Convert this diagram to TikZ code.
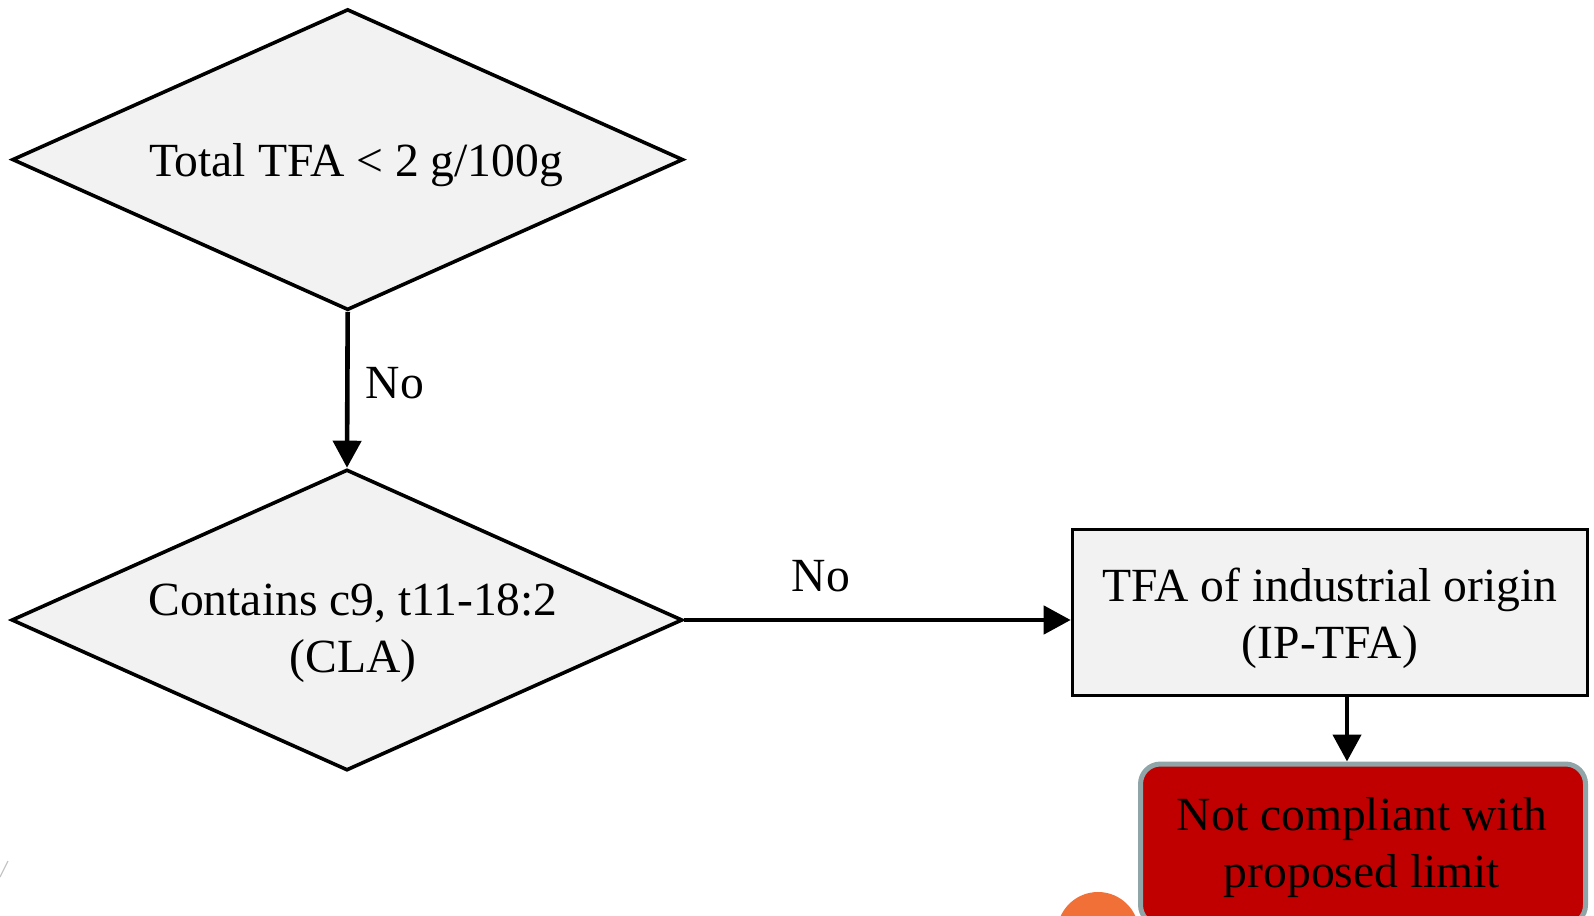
\documentclass[tikz,border=0pt]{standalone}
\usepackage{fontspec}
\setmainfont{Liberation Serif}
\usetikzlibrary{shapes.geometric,arrows.meta}

\definecolor{boxgray}{HTML}{F2F2F2}
\definecolor{alertred}{HTML}{C00000}
\definecolor{alertedge}{HTML}{8FA5A8}
\definecolor{dotorange}{HTML}{F07038}

\tikzset{
  flowtext/.style={font=\fontsize{23.8}{28.5}\selectfont, align=center, inner sep=0pt},
  decision/.style={diamond, draw=black, line width=1.8pt, fill=boxgray,
    inner sep=0pt, minimum width=335.5pt, minimum height=150.5pt},
  process/.style={rectangle, draw=black, line width=1.8pt, fill=boxgray,
    inner sep=0pt, minimum width=257.5pt, minimum height=83pt},
  alertbox/.style={rectangle, rounded corners=10pt, draw=alertedge,
    line width=2.5pt, fill=alertred, inner sep=0pt,
    minimum width=222.5pt, minimum height=80.5pt},
  flow/.style={line width=2.3pt, -{Triangle[width=14pt,length=13.5pt]}},
  edgelabel/.style={font=\fontsize{23.8}{28.5}\selectfont}
}

\begin{document}
\begin{tikzpicture}[x=0.5pt,y=-0.5pt]
  \useasboundingbox (0,0) rectangle (1594,915);
  \clip (0,0) rectangle (1594,915);

  % decisions
  \node[decision] (total) at (347.7,159.6) {};
  \node[flowtext] (totaltext) at (356,164.7) {Total TFA < 2 g/100g};
  \node[decision] (cla) at (347,620) {};
  \node[flowtext] (clatext) at (353,633.5) {Contains c9, t11-18:2\\(CLA)};

  % outcome boxes
  \node[process] (ip) at (1330,612.5) {};
  \node[flowtext] (iptext) at (1330,618.5) {TFA of industrial origin\\(IP-TFA)};
  \node[alertbox] (fail) at (1363,844.5) {};
  \node[flowtext] (failtext) at (1362,847.5) {Not compliant with\\proposed limit};

  % partially visible marker below
  \node[circle, fill=dotorange, minimum size=41pt, inner sep=0pt] (dot) at (1098,933) {};

  % faint pen stroke at the lower left edge
  \coordinate (strokeA) at (0,877);
  \coordinate (strokeB) at (8,861);
  \draw[line width=0.6pt, gray!45] (strokeA) -- (strokeB);

  % connectors
  \draw[flow] (total.south) -- (cla.north);
  \node[edgelabel] (no1) at (395,383) {No};

  \draw[flow] (cla.east) -- (cla.east -| ip.west);
  \node[edgelabel] (no2) at (821,576) {No};

  \draw[flow] ([xshift=8.5pt]ip.south) -- ([xshift=8.5pt]ip.south |- fail.north);
\end{tikzpicture}
\end{document}
